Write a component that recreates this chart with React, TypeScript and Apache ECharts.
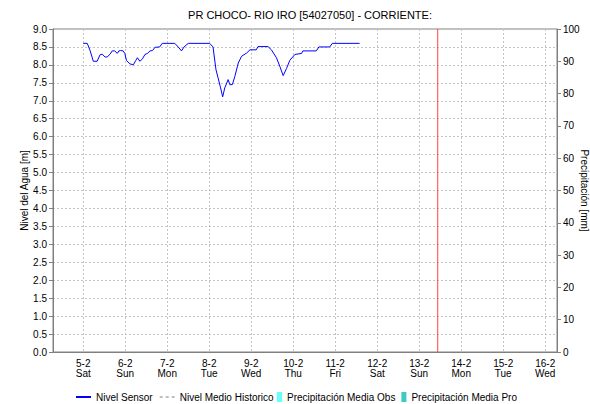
import React, { useEffect, useRef } from 'react';
import * as echarts from 'echarts';

const titleText = 'PR CHOCO- RIO IRO [54027050] - CORRIENTE:';
const leftAxisName = 'Nivel del Agua [m]';
const rightAxisName = 'Precipitación [mm]';

// x is measured in days, 1 = 5-2 00:00
const dayTicks = [1, 2, 3, 4, 5, 6, 7, 8, 9, 10, 11, 12];
const dayLabels = ['5-2', '6-2', '7-2', '8-2', '9-2', '10-2', '11-2', '12-2', '13-2', '14-2', '15-2', '16-2'];
const weekdayLabels = ['Sat', 'Sun', 'Mon', 'Tue', 'Wed', 'Thu', 'Fri', 'Sat', 'Sun', 'Mon', 'Tue', 'Wed'];
const xStart = 0.28;
const xEnd = 12.28;
const nowDay = 9.44;
const nowLineLevels = [0, 9];

const sensorDay = [
  1.0, 1.095, 1.16, 1.24, 1.33, 1.4, 1.45, 1.52, 1.57, 1.64,
  1.69, 1.75, 1.81, 1.85, 1.89, 1.95, 1.99, 2.03, 2.11, 2.19,
  2.25, 2.29, 2.35, 2.41, 2.47, 2.53, 2.59, 2.65, 2.71, 2.82,
  2.88, 3.18, 3.26, 3.34, 3.4, 3.5, 4.01, 4.09, 4.16, 4.21,
  4.27, 4.32, 4.37, 4.45, 4.49, 4.55, 4.61, 4.69, 4.77, 4.89,
  4.97, 5.12, 5.16, 5.4, 5.48, 5.6, 5.68, 5.76, 5.84, 5.92,
  6.04, 6.2, 6.23, 6.55, 6.61, 6.87, 6.93, 7.58,
];
const sensorLevel = [
  8.6, 8.6, 8.41, 8.1, 8.1, 8.28, 8.3, 8.22, 8.22, 8.3,
  8.39, 8.39, 8.32, 8.39, 8.4, 8.39, 8.32, 8.12, 8.03, 8.0,
  8.12, 8.2, 8.1, 8.17, 8.29, 8.32, 8.39, 8.4, 8.49, 8.5,
  8.6, 8.6, 8.5, 8.39, 8.5, 8.6, 8.6, 8.5, 7.87, 7.64,
  7.36, 7.11, 7.36, 7.59, 7.45, 7.45, 7.68, 8.05, 8.24, 8.33,
  8.42, 8.42, 8.51, 8.51, 8.42, 8.2, 7.96, 7.7, 7.9, 8.13,
  8.29, 8.32, 8.39, 8.39, 8.5, 8.5, 8.6, 8.6,
];
const historicDay: number[] = [];
const historicLevel: number[] = [];
const precipObsDay: number[] = [];
const precipObsValue: number[] = [];
const precipProDay: number[] = [];
const precipProValue: number[] = [];

const FONT = 'Liberation Sans, Arial, sans-serif';

function zip(a: number[], b: number[]) {
  return a.map((v, i) => [v, b[i]]);
}

export default function App() {
  const ref = useRef<HTMLDivElement>(null);
  useEffect(() => {
    document.body.style.margin = '0';
    if (!ref.current) return;
    const chart = echarts.init(ref.current, undefined, { renderer: 'svg' });
    const gridLine = { show: true, lineStyle: { color: '#c4c4c4', type: [2, 2] as any, width: 1 } };
    chart.setOption({
      animation: false,
      backgroundColor: '#ffffff',
      textStyle: { fontFamily: FONT },
      title: {
        text: titleText,
        left: 305,
        textAlign: 'center',
        top: 4,
        textStyle: { fontSize: 11, fontWeight: 'normal', color: '#000', fontFamily: FONT },
      },
      grid: {
        left: 53, right: 33, top: 29, bottom: 52,
        outerBoundsMode: 'none',
        containLabel: false,
        show: true, borderColor: '#808080', borderWidth: 1,
      },
      legend: [
        {
          left: 70, top: 387, itemWidth: 15, itemHeight: 10, itemGap: 6,
          itemStyle: { color: 'transparent', borderWidth: 0 },
          textStyle: { fontSize: 10, color: '#000', fontFamily: FONT },
          data: ['Nivel Sensor', 'Nivel Medio Historico'],
        },
        {
          left: 272, top: 387, itemWidth: 5, itemHeight: 10, itemGap: 6,
          icon: 'rect',
          textStyle: { fontSize: 10, color: '#000', fontFamily: FONT },
          data: ['Precipitación Media Obs', 'Precipitación Media Pro'],
        },
      ],
      xAxis: {
        type: 'value',
        min: xStart,
        max: xEnd,
        axisLine: { show: true, lineStyle: { color: '#808080' } },
        axisTick: { show: false, customValues: dayTicks },
        splitLine: gridLine,
        axisLabel: {
          customValues: dayTicks,
          fontSize: 10,
          color: '#000',
          lineHeight: 10,
          margin: 6,
          fontFamily: FONT,
          formatter: (v: number) => {
            const i = Math.round(v) - 1;
            return (dayLabels[i] ?? '') + '\n' + (weekdayLabels[i] ?? '');
          },
        },
      },
      yAxis: [
        {
          type: 'value',
          min: 0, max: 9, interval: 0.5,
          name: leftAxisName,
          nameLocation: 'middle',
          nameMoveOverlap: false,
          nameGap: 24,
          nameTextStyle: { fontSize: 10, color: '#000', fontFamily: FONT },
          axisLine: { show: true, lineStyle: { color: '#808080' } },
          axisTick: { show: true, length: 4, lineStyle: { color: '#808080' } },
          splitLine: gridLine,
          axisLabel: { fontSize: 10, color: '#000', margin: 6, formatter: (v: number) => v.toFixed(1), fontFamily: FONT },
        },
        {
          type: 'value',
          min: 0, max: 100, interval: 10,
          name: rightAxisName,
          nameLocation: 'middle',
          nameMoveOverlap: false,
          nameRotate: -90,
          nameGap: 22,
          nameTextStyle: { fontSize: 10, color: '#000', fontFamily: FONT },
          axisLine: { show: true, lineStyle: { color: '#808080' } },
          axisTick: { show: true, length: 4, lineStyle: { color: '#808080' } },
          splitLine: { show: false },
          axisLabel: { fontSize: 10, color: '#000', margin: 6, fontFamily: FONT },
        },
      ],
      series: [
        {
          name: 'Nivel Sensor',
          type: 'line',
          yAxisIndex: 0,
          symbol: 'none',
          data: zip(sensorDay, sensorLevel),
          lineStyle: { color: '#0000ff', width: 1 },
          itemStyle: { color: '#0000ff' },
        },
        {
          name: 'Ahora',
          type: 'line',
          yAxisIndex: 0,
          symbol: 'none',
          silent: true,
          data: nowLineLevels.map((v) => [nowDay, v]),
          lineStyle: { color: '#ff4040', width: 1 },
          itemStyle: { color: '#ff4040' },
        },
        {
          name: 'Nivel Medio Historico',
          type: 'line',
          yAxisIndex: 0,
          symbol: 'none',
          data: zip(historicDay, historicLevel),
          lineStyle: { color: '#c0c0c0', width: 1, type: [3, 3] },
          itemStyle: { color: '#c0c0c0' },
        },
        {
          name: 'Precipitación Media Obs',
          type: 'bar',
          yAxisIndex: 1,
          data: zip(precipObsDay, precipObsValue),
          itemStyle: { color: '#66ffff' },
        },
        {
          name: 'Precipitación Media Pro',
          type: 'bar',
          yAxisIndex: 1,
          data: zip(precipProDay, precipProValue),
          itemStyle: { color: '#3fc8c8' },
        },
      ],
    });
    return () => chart.dispose();
  }, []);
  return <div ref={ref} style={{ width: 590, height: 404 }} />;
}
